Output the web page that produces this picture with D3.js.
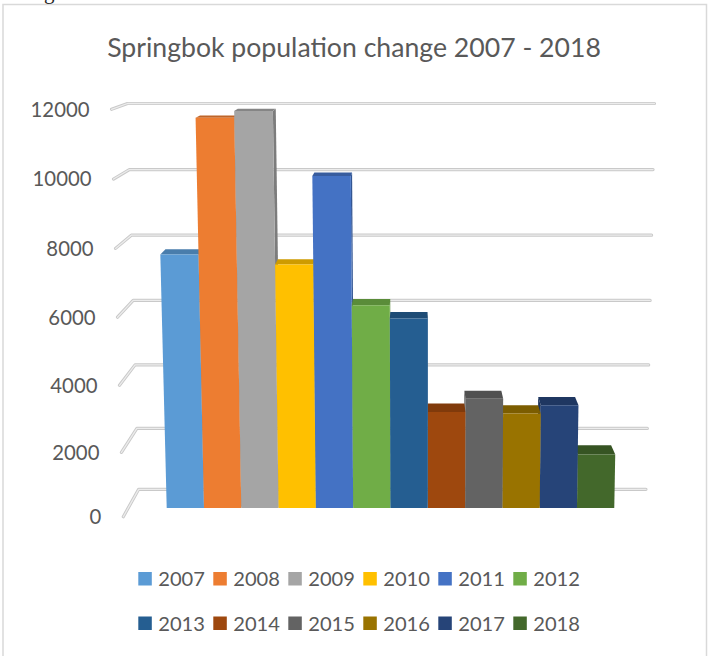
<!DOCTYPE html>
<html>
<head>
<meta charset="utf-8">
<script src="https://cdnjs.cloudflare.com/ajax/libs/d3/7.8.5/d3.min.js"></script>
<style>
  html, body { margin: 0; padding: 0; background: #ffffff; }
  svg { display: block; }
</style>
</head>
<body>
<svg id="chart" width="709" height="656"></svg>
<script>
// ---- data ----
const title = "Springbok population change 2007 - 2018";
const years = ["2007", "2008", "2009", "2010", "2011", "2012",
               "2013", "2014", "2015", "2016", "2017", "2018"];
const population = [7700, 11700, 11900, 7400, 10000, 6200,
                    5800, 3000, 3400, 2950, 3200, 1700];
const seriesColors = ["#5B9BD5", "#ED7D31", "#A5A5A5", "#FFC000", "#4472C4", "#70AD47",
                      "#255E91", "#9E480E", "#636363", "#997300", "#264478", "#43682B"];
const yTicks = [0, 2000, 4000, 6000, 8000, 10000, 12000];

// ---- layout / perspective ----
const W = 709, H = 656;
const FONT = "Lato, 'Open Sans', sans-serif";
const TEXT = "#595959";
const VP = [413, 0];            // depth vanishing point
const LEAN_X = 427, LEAN_K = 10500; // slight convergence of verticals
const WALL_T = 0.053;           // depth of the back wall
const BAR_T = 0.0168;           // depth of the bar fronts
const BAR_D = 0.02;             // bar depth
const LEFT_U = 123.3, RIGHT_U = 659;

const svg = d3.select("#chart");

// value -> vertical position on the front plane (mild perspective stretch)
const yF = d3.scalePow().exponent(1.03).domain([0, 12000]).range([516.7, 109.3]);
const xBand = d3.scaleBand().domain(years).range([162.5, 617.7]).padding(0);

function project(u, v, t) {
  const y0 = yF(v);
  const x0 = u + (u - LEAN_X) * (yF(0) - y0) / LEAN_K;
  return [x0 + t * (VP[0] - x0), y0 + t * (VP[1] - y0)];
}
const pathOf = pts => "M" + pts.map(p => p[0].toFixed(2) + "," + p[1].toFixed(2)).join("L") + "Z";

// fit a font size so a sample string spans the given width
function fitSize(sample, width, family) {
  const t = svg.append("text").attr("font-family", family).attr("font-size", 100).text(sample);
  const w = t.node().getComputedTextLength();
  t.remove();
  return 100 * width / w;
}

// ---- frame ----
svg.append("rect")
  .attr("x", 3).attr("y", 4.5).attr("width", 703.5).attr("height", 700)
  .attr("fill", "#ffffff").attr("stroke", "#d9d9d9").attr("stroke-width", 1.5);

// fragment of the surrounding page text above the frame
svg.append("text").attr("x", 44).attr("y", -1.5)
  .attr("font-family", "'Liberation Serif', serif").attr("font-size", 21)
  .attr("fill", "#222").text("g");

// ---- title ----
const titleSize = fitSize(title, 494, FONT);
svg.append("text")
  .attr("x", 354).attr("y", 57)
  .attr("text-anchor", "middle")
  .attr("font-family", FONT).attr("font-size", titleSize)
  .attr("fill", TEXT).text(title);

// ---- gridlines: side-wall diagonal + back-wall horizontal ----
const grid = svg.append("g").attr("fill", "none").attr("stroke-linecap", "round").attr("stroke-linejoin", "round");
yTicks.forEach(v => {
  const pts = [project(LEFT_U, v, 0), project(LEFT_U, v, WALL_T), project(RIGHT_U, v, WALL_T)];
  const d = d3.line()(pts);
  grid.append("path").attr("d", d).attr("stroke", "#c9c9c9").attr("stroke-width", 3.2);
  grid.append("path").attr("d", d).attr("stroke", "#ececec").attr("stroke-width", 1.3);
});

// ---- y-axis labels ----
const axisSize = fitSize("12000", 59, FONT);
svg.append("g").selectAll("text").data(yTicks).join("text")
  .attr("x", v => project(LEFT_U, v, 0)[0] - 22)
  .attr("y", v => project(LEFT_U, v, 0)[1] + axisSize * 0.36)
  .attr("text-anchor", "end")
  .attr("font-family", FONT).attr("font-size", axisSize)
  .attr("fill", TEXT)
  .text(v => v);

// ---- 3D columns ----
const bars = years.map((yr, i) => ({
  year: yr, value: population[i], color: seriesColors[i],
  u0: xBand(yr), u1: xBand(yr) + xBand.bandwidth()
}));
// paint the columns farthest from the vanishing point first
const order = bars.slice().sort((a, b) =>
  Math.abs((b.u0 + b.u1) / 2 - VP[0]) - Math.abs((a.u0 + a.u1) / 2 - VP[0]));

const barG = svg.append("g");
order.forEach(b => {
  const g = barG.append("g");
  const t0 = BAR_T, t1 = BAR_T + BAR_D;
  const c = d3.color(b.color);
  const sideU = ((b.u0 + b.u1) / 2 < VP[0]) ? b.u1 : b.u0;
  // side face
  g.append("path")
    .attr("d", pathOf([project(sideU, 0, t0), project(sideU, b.value, t0),
                       project(sideU, b.value, t1), project(sideU, 0, t1)]))
    .attr("fill", c.darker(0.8));
  // top face
  g.append("path")
    .attr("d", pathOf([project(b.u0, b.value, t0), project(b.u1, b.value, t0),
                       project(b.u1, b.value, t1), project(b.u0, b.value, t1)]))
    .attr("fill", c.darker(0.6));
  // front face
  g.append("path")
    .attr("d", pathOf([project(b.u0, 0, t0), project(b.u1, 0, t0),
                       project(b.u1, b.value, t0), project(b.u0, b.value, t0)]))
    .attr("fill", b.color);
});

// ---- legend (two rows of six) ----
const legendSize = fitSize("2007", 46.7, FONT);
const legend = svg.append("g");
const perRow = 6;
years.forEach((yr, i) => {
  const col = i % perRow, row = Math.floor(i / perRow);
  const x = 138.3 + col * 75;
  const top = row === 0 ? 572 : 616.5;
  legend.append("rect")
    .attr("x", x).attr("y", top).attr("width", 13.5).attr("height", 13.5)
    .attr("fill", seriesColors[i]);
  legend.append("text")
    .attr("x", x + 20).attr("y", top + 14.2)
    .attr("font-family", FONT).attr("font-size", legendSize)
    .attr("fill", TEXT).text(yr);
});
</script>
</body>
</html>
